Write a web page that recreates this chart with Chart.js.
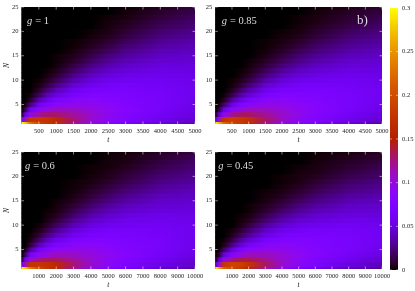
<!DOCTYPE html>
<html>
<head>
<meta charset="utf-8">
<style>
    html, body { margin: 0; padding: 0; background: #fff; }
    body { width: 415px; height: 291px; overflow: hidden; position: relative; }
    .box { position: absolute; filter: blur(0.35px); }
    .box canvas { display: block; }
</style>
<script src="https://cdn.jsdelivr.net/npm/chart.js@4"></script>
</head>
<body>
<div class="box" style="left:0;top:0;width:207px;height:146px"><canvas id="p1"></canvas></div>
<div class="box" style="left:200px;top:0;width:200px;height:146px"><canvas id="p2"></canvas></div>
<div class="box" style="left:0;top:145px;width:207px;height:146px"><canvas id="p3"></canvas></div>
<div class="box" style="left:200px;top:145px;width:200px;height:146px"><canvas id="p4"></canvas></div>
<div class="box" style="left:385px;top:0;width:30px;height:280px"><canvas id="cb"></canvas></div>
<script>
// sample times along every row (top panels, bottom panels)
const timesShort = [0, 100, 250, 500, 750, 1000, 1500, 2000, 2500, 3000, 4000, 5000];
const timesLong = [0, 200, 500, 1000, 1500, 2000, 3000, 4000, 5000, 6000, 8000, 10000];
const nLevels = [1, 2, 3, 4, 5, 6, 7, 8, 9, 10, 11, 12, 13, 14, 15, 16, 17, 18, 19, 20, 21, 22, 23, 24, 25];

const xTicksShort = [500, 1000, 1500, 2000, 2500, 3000, 3500, 4000, 4500, 5000];
const xTicksLong = [1000, 2000, 3000, 4000, 5000, 6000, 7000, 8000, 9000, 10000];
const yTicks = [5, 10, 15, 20, 25];
const colorTicks = [0, 0.05, 0.1, 0.15, 0.2, 0.25, 0.3];

// in thousandths, one line per N
const g100 = [
    [300, 280, 230, 190, 178, 165, 122, 95, 78, 65, 48, 38],
    [60, 105, 178, 180, 176, 165, 128, 105, 90, 76, 58, 46],
    [5, 50, 95, 120, 130, 130, 118, 105, 92, 78, 62, 50],
    [0, 15, 60, 85, 100, 108, 108, 100, 90, 80, 65, 53],
    [0, 3, 25, 60, 78, 88, 95, 92, 86, 78, 66, 55],
    [0, 0, 8, 35, 55, 70, 83, 85, 80, 75, 66, 57],
    [0, 0, 2, 18, 38, 52, 70, 76, 76, 72, 65, 57],
    [0, 0, 0, 8, 23, 38, 58, 67, 70, 69, 64, 58],
    [0, 0, 0, 3, 13, 26, 47, 58, 64, 65, 62, 57],
    [0, 0, 0, 1, 7, 16, 36, 49, 57, 60, 60, 56],
    [0, 0, 0, 0, 3, 9, 27, 41, 50, 55, 57, 54],
    [0, 0, 0, 0, 1, 5, 19, 33, 43, 49, 54, 52],
    [0, 0, 0, 0, 0, 2, 13, 26, 36, 43, 50, 50],
    [0, 0, 0, 0, 0, 1, 8, 19, 30, 38, 46, 47],
    [0, 0, 0, 0, 0, 1, 5, 14, 24, 32, 42, 44],
    [0, 0, 0, 0, 0, 0, 3, 10, 18, 27, 38, 41],
    [0, 0, 0, 0, 0, 0, 1, 6, 13, 22, 33, 38],
    [0, 0, 0, 0, 0, 0, 1, 4, 9, 17, 29, 35],
    [0, 0, 0, 0, 0, 0, 0, 2, 6, 13, 25, 31],
    [0, 0, 0, 0, 0, 0, 0, 1, 4, 10, 21, 28],
    [0, 0, 0, 0, 0, 0, 0, 0, 3, 7, 17, 24],
    [0, 0, 0, 0, 0, 0, 0, 0, 2, 5, 14, 21],
    [0, 0, 0, 0, 0, 0, 0, 0, 1, 3, 11, 18],
    [0, 0, 0, 0, 0, 0, 0, 0, 0, 2, 8, 15],
    [0, 0, 0, 0, 0, 0, 0, 0, 0, 1, 6, 12]
];
const g085 = [
    [300, 270, 225, 195, 182, 168, 125, 95, 78, 65, 47, 36],
    [50, 100, 175, 185, 180, 172, 132, 108, 92, 78, 58, 46],
    [3, 42, 90, 120, 132, 132, 120, 107, 94, 80, 62, 50],
    [0, 10, 52, 82, 100, 108, 110, 102, 92, 82, 66, 54],
    [0, 2, 20, 54, 75, 87, 96, 94, 88, 80, 68, 57],
    [0, 0, 6, 30, 50, 67, 84, 87, 82, 77, 68, 58],
    [0, 0, 1, 14, 33, 48, 70, 77, 77, 73, 67, 59],
    [0, 0, 0, 6, 19, 33, 56, 67, 70, 70, 65, 59],
    [0, 0, 0, 2, 10, 22, 45, 58, 64, 65, 63, 58],
    [0, 0, 0, 1, 5, 13, 34, 48, 56, 59, 60, 56],
    [0, 0, 0, 0, 2, 7, 24, 39, 48, 53, 57, 54],
    [0, 0, 0, 0, 1, 4, 17, 31, 41, 47, 53, 52],
    [0, 0, 0, 0, 0, 2, 11, 23, 33, 40, 48, 49],
    [0, 0, 0, 0, 0, 1, 7, 17, 27, 35, 44, 46],
    [0, 0, 0, 0, 0, 0, 4, 12, 21, 29, 39, 42],
    [0, 0, 0, 0, 0, 0, 2, 8, 16, 24, 35, 39],
    [0, 0, 0, 0, 0, 0, 1, 5, 11, 19, 30, 35],
    [0, 0, 0, 0, 0, 0, 1, 3, 8, 15, 26, 32],
    [0, 0, 0, 0, 0, 0, 0, 2, 5, 11, 22, 28],
    [0, 0, 0, 0, 0, 0, 0, 1, 3, 8, 18, 25],
    [0, 0, 0, 0, 0, 0, 0, 0, 2, 6, 14, 21],
    [0, 0, 0, 0, 0, 0, 0, 0, 1, 4, 11, 18],
    [0, 0, 0, 0, 0, 0, 0, 0, 1, 3, 9, 15],
    [0, 0, 0, 0, 0, 0, 0, 0, 0, 2, 7, 12],
    [0, 0, 0, 0, 0, 0, 0, 0, 0, 1, 5, 10]
];
const g060 = [
    [300, 275, 235, 195, 175, 160, 118, 92, 76, 62, 45, 34],
    [60, 110, 175, 178, 172, 162, 128, 105, 88, 74, 55, 44],
    [6, 55, 100, 122, 130, 130, 118, 104, 90, 77, 60, 48],
    [0, 18, 65, 90, 102, 110, 108, 100, 90, 80, 64, 52],
    [0, 4, 30, 62, 80, 90, 96, 93, 86, 78, 66, 55],
    [0, 0, 10, 38, 58, 72, 85, 86, 81, 75, 66, 57],
    [0, 0, 3, 20, 40, 55, 72, 77, 76, 72, 65, 57],
    [0, 0, 1, 10, 25, 40, 60, 68, 71, 70, 64, 58],
    [0, 0, 0, 4, 15, 28, 49, 60, 65, 66, 63, 58],
    [0, 0, 0, 1, 8, 18, 38, 51, 58, 61, 61, 57],
    [0, 0, 0, 0, 4, 11, 29, 43, 51, 56, 58, 55],
    [0, 0, 0, 0, 2, 6, 21, 35, 44, 50, 55, 53],
    [0, 0, 0, 0, 1, 3, 15, 28, 38, 44, 51, 50],
    [0, 0, 0, 0, 0, 2, 10, 21, 31, 39, 47, 48],
    [0, 0, 0, 0, 0, 1, 6, 16, 25, 33, 43, 45],
    [0, 0, 0, 0, 0, 0, 4, 11, 20, 28, 39, 42],
    [0, 0, 0, 0, 0, 0, 2, 8, 15, 23, 34, 39],
    [0, 0, 0, 0, 0, 0, 1, 5, 11, 18, 30, 36],
    [0, 0, 0, 0, 0, 0, 1, 3, 8, 14, 26, 32],
    [0, 0, 0, 0, 0, 0, 0, 2, 5, 11, 22, 29],
    [0, 0, 0, 0, 0, 0, 0, 1, 4, 8, 18, 25],
    [0, 0, 0, 0, 0, 0, 0, 1, 2, 6, 15, 22],
    [0, 0, 0, 0, 0, 0, 0, 0, 2, 4, 12, 19],
    [0, 0, 0, 0, 0, 0, 0, 0, 1, 3, 9, 16],
    [0, 0, 0, 0, 0, 0, 0, 0, 1, 2, 7, 13]
];
const g045 = [
    [300, 260, 218, 195, 182, 162, 115, 88, 70, 56, 39, 29],
    [40, 95, 178, 192, 188, 175, 132, 105, 88, 72, 52, 40],
    [2, 38, 85, 122, 135, 135, 120, 104, 90, 76, 58, 46],
    [0, 8, 48, 80, 100, 110, 110, 102, 90, 80, 64, 52],
    [0, 1, 18, 50, 72, 86, 96, 94, 87, 79, 67, 56],
    [0, 0, 5, 26, 47, 64, 83, 87, 82, 76, 68, 58],
    [0, 0, 1, 12, 30, 45, 68, 76, 77, 74, 68, 60],
    [0, 0, 0, 5, 17, 30, 54, 66, 70, 70, 66, 60],
    [0, 0, 0, 2, 9, 20, 42, 56, 63, 65, 64, 59],
    [0, 0, 0, 0, 4, 12, 31, 46, 54, 58, 60, 57],
    [0, 0, 0, 0, 2, 6, 22, 36, 46, 51, 56, 54],
    [0, 0, 0, 0, 1, 3, 15, 28, 38, 45, 51, 51],
    [0, 0, 0, 0, 0, 1, 9, 20, 30, 38, 46, 47],
    [0, 0, 0, 0, 0, 1, 6, 14, 24, 32, 42, 44],
    [0, 0, 0, 0, 0, 0, 3, 10, 18, 26, 37, 40],
    [0, 0, 0, 0, 0, 0, 2, 6, 13, 21, 32, 36],
    [0, 0, 0, 0, 0, 0, 1, 4, 9, 16, 27, 32],
    [0, 0, 0, 0, 0, 0, 0, 2, 6, 12, 23, 28],
    [0, 0, 0, 0, 0, 0, 0, 1, 4, 9, 19, 25],
    [0, 0, 0, 0, 0, 0, 0, 1, 3, 6, 15, 21],
    [0, 0, 0, 0, 0, 0, 0, 0, 2, 4, 12, 18],
    [0, 0, 0, 0, 0, 0, 0, 0, 1, 3, 9, 15],
    [0, 0, 0, 0, 0, 0, 0, 0, 0, 2, 7, 12],
    [0, 0, 0, 0, 0, 0, 0, 0, 0, 1, 5, 9],
    [0, 0, 0, 0, 0, 0, 0, 0, 0, 1, 3, 7]
];

const SERIF = "'Liberation Serif', serif";
const TEXT = "#222";

// gnuplot's default pm3d palette (rgbformulae 7,5,15), v runs 0..0.3
function paletteColor(v) {
    const x = Math.min(1, Math.max(0, v / 0.3));
    const r = Math.sqrt(x);
    const g = x * x * x;
    const b = Math.max(0, Math.sin(2 * Math.PI * x));
    return `rgb(${Math.round(r * 255)},${Math.round(g * 255)},${Math.round(b * 255)})`;
}

// row gradient: one stop for each sample time, placed with the x scale
function rowGradient(chart, times, row) {
    const xs = chart.scales.x;
    const x0 = xs.getPixelForValue(times[0]);
    const x1 = xs.getPixelForValue(times[times.length - 1]);
    const grad = chart.ctx.createLinearGradient(x0, 0, x1, 0);
    times.forEach((t, i) => {
        grad.addColorStop((xs.getPixelForValue(t) - x0) / (x1 - x0), paletteColor(row[i] / 1000));
    });
    return grad;
}

// black field behind the rows, ticks inside the frame and the panel captions
const panelPlugin = {
    id: "panelExtras",
    beforeDatasetsDraw(chart) {
        const a = chart.chartArea;
        chart.ctx.fillStyle = "#000";
        chart.ctx.fillRect(a.left, a.top, a.right - a.left, a.bottom - a.top);
    },
    afterDraw(chart, args, opts) {
        const c = chart.ctx, a = chart.chartArea;
        c.save();
        c.strokeStyle = "rgba(255,255,255,0.75)";
        c.lineWidth = 0.7;
        c.beginPath();
        opts.xTicks.forEach(v => {
            const px = chart.scales.x.getPixelForValue(v);
            c.moveTo(px, a.bottom); c.lineTo(px, a.bottom - 2.5);
            c.moveTo(px, a.top); c.lineTo(px, a.top + 2.5);
        });
        yTicks.forEach(v => {
            const py = chart.scales.y.getPixelForValue(v);
            c.moveTo(a.left, py); c.lineTo(a.left + 2.5, py);
            c.moveTo(a.right, py); c.lineTo(a.right - 2.5, py);
        });
        c.stroke();
        c.fillStyle = "#ddd";
        c.textBaseline = "alphabetic";
        c.textAlign = "left";
        c.font = `italic 10.5px ${SERIF}`;
        c.fillText("g", a.left + opts.capX, a.top + 17);
        c.font = `10.5px ${SERIF}`;
        c.fillText(" = " + opts.caption, a.left + opts.capX + 5.5, a.top + 17);
        if (opts.mark) {
            c.font = `13px ${SERIF}`;
            c.fillText(opts.mark, a.right - 25, a.top + 17);
        }
        c.restore();
    }
};

function makePanel(id, rows, times, xTicks, caption, o) {
    const maxT = times[times.length - 1];
    new Chart(document.getElementById(id), {
        type: "bar",
        data: {
            datasets: [{
                data: nLevels.map(n => ({ x: [times[0], maxT], y: n })),
                barPercentage: 1,
                categoryPercentage: 1,
                backgroundColor: ctx => {
                    if (ctx.dataIndex === undefined || !ctx.chart.chartArea) return "#000";
                    return rowGradient(ctx.chart, times, rows[ctx.dataIndex]);
                }
            }]
        },
        options: {
            indexAxis: "y",
            responsive: true,
            maintainAspectRatio: false,
            animation: false,
            layout: { padding: { left: 0, right: o.rightPad, top: 7, bottom: 0 } },
            plugins: {
                legend: { display: false },
                tooltip: { enabled: false },
                panelExtras: { xTicks: xTicks, caption: caption, capX: o.capX, mark: o.mark }
            },
            scales: {
                x: {
                    type: "linear",
                    min: times[0],
                    max: maxT,
                    afterBuildTicks: s => { s.ticks = xTicks.map(v => ({ value: v })); },
                    afterFit: s => { s.height = 22; },
                    grid: { display: false, drawTicks: false },
                    border: { display: false },
                    ticks: { autoSkip: false, maxRotation: 0, padding: 3.5, color: TEXT, font: { family: SERIF, size: 6.5 }, callback: v => String(v) },
                    title: { display: true, text: "t", color: TEXT, padding: { top: 0, bottom: 1 }, font: { family: SERIF, size: 7.5, style: "italic" } }
                },
                y: {
                    type: "linear",
                    offset: false,
                    min: 1,
                    max: 25,
                    afterBuildTicks: s => { s.ticks = yTicks.map(v => ({ value: v })); },
                    afterFit: s => { s.width = o.axisWidth; },
                    grid: { display: false, drawTicks: false },
                    border: { display: false },
                    ticks: { autoSkip: false, padding: 3, color: TEXT, font: { family: SERIF, size: 6.5 } },
                    title: { display: o.showN, text: "N", color: TEXT, padding: { top: 3, bottom: 0 }, font: { family: SERIF, size: 7.5, style: "italic" } }
                }
            }
        },
        plugins: [panelPlugin]
    });
}

makePanel("p1", g100, timesShort, xTicksShort, "1", { rightPad: 12, axisWidth: 21.5, showN: true, capX: 5.5 });
makePanel("p2", g085, timesShort, xTicksShort, "0.85", { rightPad: 18, axisWidth: 15.3, showN: false, capX: 6.5, mark: "b)" });
makePanel("p3", g060, timesLong, xTicksLong, "0.6", { rightPad: 12, axisWidth: 21.5, showN: true, capX: 3.5 });
makePanel("p4", g045, timesLong, xTicksLong, "0.45", { rightPad: 18, axisWidth: 15.3, showN: false, capX: 3 });

// colour box: a single bar from 0 to 0.3 on the value axis
new Chart(document.getElementById("cb"), {
    type: "bar",
    data: {
        labels: ["P"],
        datasets: [{
            data: [[colorTicks[0], colorTicks[colorTicks.length - 1]]],
            barPercentage: 1,
            categoryPercentage: 1,
            backgroundColor: ctx => {
                if (!ctx.chart.chartArea) return "#000";
                const ys = ctx.chart.scales.y;
                const grad = ctx.chart.ctx.createLinearGradient(0, ys.getPixelForValue(0), 0, ys.getPixelForValue(0.3));
                for (let i = 0; i <= 60; i++) grad.addColorStop(i / 60, paletteColor(0.3 * i / 60));
                return grad;
            }
        }]
    },
    options: {
        responsive: true,
        maintainAspectRatio: false,
        animation: false,
        layout: { padding: { left: 5, right: 0, top: 7, bottom: 10 } },
        plugins: { legend: { display: false }, tooltip: { enabled: false } },
        scales: {
            x: { display: false },
            y: {
                position: "right",
                min: 0,
                max: 0.3,
                afterBuildTicks: s => { s.ticks = colorTicks.map(v => ({ value: v })); },
                afterFit: s => { s.width = 17; },
                grid: { display: false, drawTicks: false },
                border: { display: false },
                ticks: { padding: 4, color: TEXT, font: { family: SERIF, size: 6.5 }, callback: v => String(v) }
            }
        }
    },
    plugins: [{
        id: "colorTicks",
        afterDraw(chart) {
            const c = chart.ctx, a = chart.chartArea;
            c.save();
            c.strokeStyle = "rgba(255,255,255,0.7)";
            c.lineWidth = 0.7;
            c.beginPath();
            colorTicks.forEach(v => {
                const py = chart.scales.y.getPixelForValue(v);
                c.moveTo(a.left, py); c.lineTo(a.left + 2, py);
                c.moveTo(a.right, py); c.lineTo(a.right - 2, py);
            });
            c.stroke();
            c.restore();
        }
    }]
});
</script>
</body>
</html>
